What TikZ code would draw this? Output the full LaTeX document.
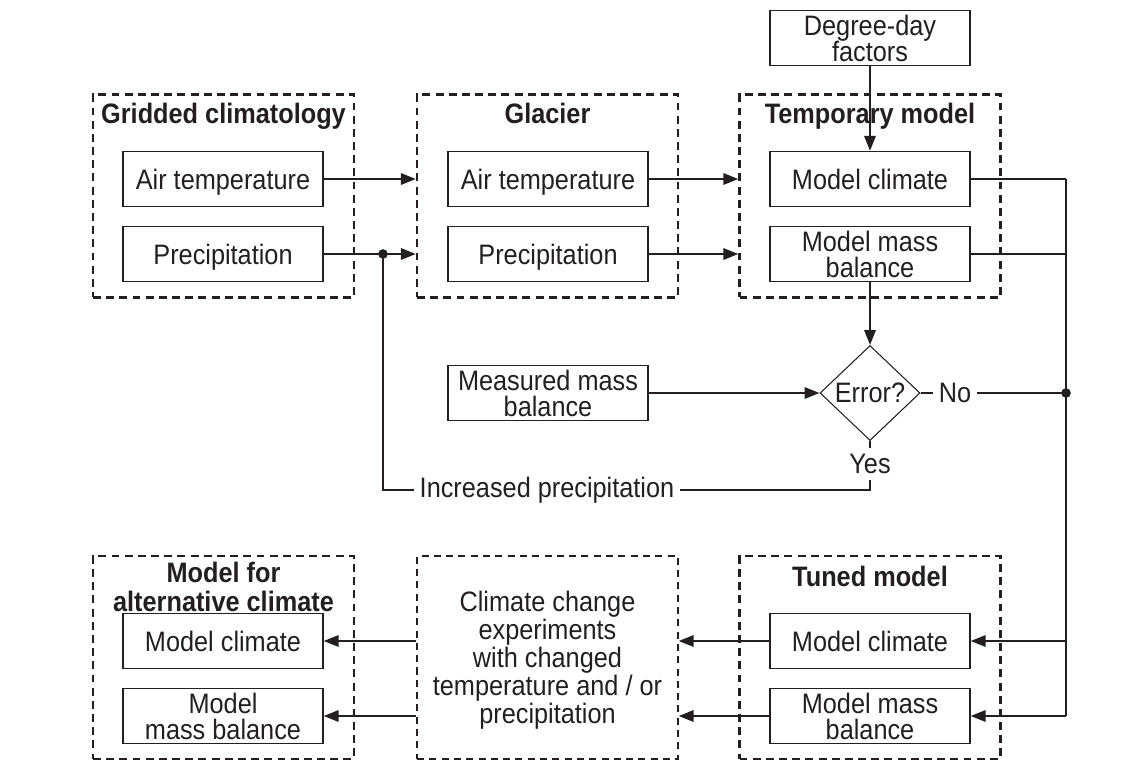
\documentclass[tikz,border=0pt]{standalone}
\usepackage{fontspec}
\setmainfont{Liberation Sans}[FakeStretch=0.9]
\usetikzlibrary{shapes.geometric,arrows.meta}
\definecolor{ink}{HTML}{231F20}

\tikzset{
  every node/.style={font=\fontsize{16}{15}\selectfont, text=ink},
  box/.style={draw=ink, line width=0.8pt, minimum width=4cm, minimum height=1.1cm, align=center, inner sep=1pt, text depth=0pt},
  group/.style={draw=ink, line width=1.4pt, dash pattern=on 4.5pt off 3pt, minimum width=5.22cm, minimum height=4.06cm, inner sep=0pt},
  thingroup/.style={draw=ink, line width=0.8pt, dash pattern=on 4pt off 3pt, minimum width=5.22cm, minimum height=4.06cm, inner sep=0pt},
  title/.style={font=\fontsize{16}{16.5}\bfseries\selectfont, align=center},
  flow/.style={draw=ink, line width=1.1pt, -{Triangle[length=8.5pt,width=6.5pt]}},
  link/.style={draw=ink, line width=0.6pt},
  dot/.style={circle, fill=ink, inner sep=0pt, minimum size=5.5pt},
}

\begin{document}
\begin{tikzpicture}[x=0.02cm, y=-0.02cm]
\useasboundingbox (0,0) rectangle (1145,761);

% upper row
\node[group] (grid) at (223.5,196) {};
\node[group] (glac) at (547.5,196) {};
\node[group] (temp) at (870,196) {};
\node[title, anchor=base] at (223.5,123) {Gridded climatology};
\node[title, anchor=base] at (547.5,123) {Glacier};
\node[title, anchor=base] at (870,123) {Temporary model};

\node[box] (gair) at (223,179) {Air temperature};
\node[box] (gprec) at (223,254) {Precipitation};
\node[box] (lair) at (548,179) {Air temperature};
\node[box] (lprec) at (548,254) {Precipitation};
\node[box] (tclim) at (870,179) {Model climate};
\node[box] (tmb) at (870,254) {Model mass\\balance};
\node[box] (ddf) at (870,38) {Degree-day\\factors};

% check
\node[diamond, draw=ink, line width=0.6pt, minimum width=2cm, minimum height=1.9cm, inner sep=0pt] (err) at (870,393) {Error?};
\node[box] (meas) at (548,393) {Measured mass\\balance};
\node (no) at (955,393) {No};
\node (yes) at (870,464) {Yes};
\node (incr) at (547,490) {Increased precipitation};

% lower row
\node[group] (alt) at (223.5,657.5) {};
\node[thingroup] (cc) at (547.5,657.5) {};
\node[group] (tuned) at (870,657.5) {};
\node[title] at (223.5,587) {Model for\\alternative climate};
\node[align=center, font=\fontsize{16}{16}\selectfont] at (547.5,660) {Climate change\\experiments\\with changed\\temperature and / or\\precipitation};
\node[title, anchor=base] at (870,586) {Tuned model};

\node[box] (aclim) at (223,641) {Model climate};
\node[box] (amb) at (223,716) {Model\\mass balance};
\node[box] (uclim) at (870,641) {Model climate};
\node[box] (umb) at (870,716) {Model mass\\balance};

\coordinate (split) at (383,254);
\coordinate (rtop) at (1066,179);
\coordinate (rmid) at (1066,254);
\coordinate (join) at (1066,393);
\coordinate (rclim) at (1066,641);
\coordinate (rbot) at (1066,716);
\coordinate (yescorner) at (870,490);
\coordinate (leftcorner) at (383,490);

% connectors
\draw[flow] (gair.east) -- (glac.west |- gair.east);
\draw[flow] (gprec.east) -- (glac.west |- gprec.east);
\draw[flow] (lair.east) -- (temp.west |- lair.east);
\draw[flow] (lprec.east) -- (temp.west |- lprec.east);
\draw[flow] (ddf.south) -- (tclim.north);
\draw[flow] (tmb.south) -- (err.north);
\draw[flow] (meas.east) -- (err.west);
\draw[link] (err.east) -- (no.west);
\draw[link] (no.east) -- (join);
\draw[link] (err.south) -- (yes.north);
\draw[link] (yes.south) -- (yescorner) -- (incr.east);
\draw[link] (incr.west) -- (leftcorner) -- (split);
\draw[link] (tclim.east) -- (rtop);
\draw[link] (tmb.east) -- (rmid);
\draw[link] (rtop) -- (rbot);
\draw[flow] (rclim) -- (uclim.east);
\draw[flow] (rbot) -- (umb.east);
\draw[flow] (uclim.west) -- (cc.east |- uclim.west);
\draw[flow] (umb.west) -- (cc.east |- umb.west);
\draw[flow] (cc.west |- aclim.east) -- (aclim.east);
\draw[flow] (cc.west |- amb.east) -- (amb.east);
\node[dot] at (split) {};
\node[dot] at (join) {};
\end{tikzpicture}
\end{document}
